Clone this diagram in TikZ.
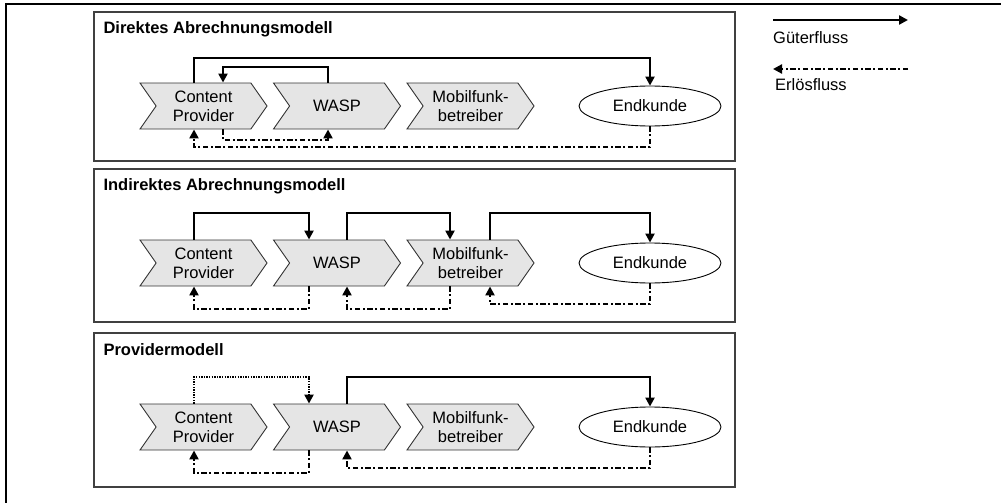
\documentclass[tikz,border=0pt]{standalone}
\usepackage{fontspec}
\setmainfont{Liberation Sans}
\usetikzlibrary{arrows.meta, shapes.geometric, shapes.symbols}

\begin{document}
\begin{tikzpicture}[
    x=1pt, y=-1pt,
    >={Triangle[length=9pt, width=9pt]},
    font=\fontsize{16.5}{19}\selectfont,
    chev/.style={draw=black!80, line width=0.9pt, fill=black!10, signal,
                 signal to=east, signal from=west, signal pointer angle=110,
                 minimum width=127pt, minimum height=46pt,
                 inner sep=0pt, align=center},
    kunde/.style={draw, line width=0.9pt, ellipse, fill=white,
                  minimum width=142pt, minimum height=40pt, inner sep=0pt},
    panel/.style={draw=black!75, line width=1.4pt},
    titel/.style={anchor=west, font=\fontsize{16.5}{19}\selectfont\bfseries},
    gut/.style={->, line width=2.8pt},
    gutpunkt/.style={->, line width=2.8pt, dash pattern=on 1.3pt off 1.3pt},
    erloes/.style={->, line width=2.3pt,
                   dash pattern=on 5.5pt off 2.5pt on 2pt off 2.5pt}
  ]
  \useasboundingbox (0,0) rectangle (1001,503);
  \draw[line width=1.2pt] (6,503) -- (6,4) -- (1001,4);

  % Direktes Abrechnungsmodell
  \draw[panel] (94,12) rectangle (735,161);
  \node[titel] (t1) at (100,29) {Direktes Abrechnungsmodell};
  \node[chev] (cp1) at (203.5,106) {Content\\Provider};
  \node[chev] (wasp1) at (337,106) {WASP};
  \node[chev] (mf1) at (470.5,106) {Mobilfunk-\\betreiber};
  \node[kunde] (end1) at (650,106) {Endkunde};

  \draw[gut] (194,0 |- cp1.north) |- (650,58) -- (end1.north);
  \draw[gut] (328,0 |- wasp1.north) |- (223,67) -- (223,0 |- cp1.north);
  \draw[erloes] (223,0 |- cp1.south) |- (328,140) -- (328,0 |- wasp1.south);
  \draw[erloes] (end1.south) |- (194,147) -- (194,0 |- cp1.south);

  % Indirektes Abrechnungsmodell
  \draw[panel] (94,169) rectangle (735,322);
  \node[titel] (t2) at (100,186) {Indirektes Abrechnungsmodell};
  \node[chev] (cp2) at (203.5,263) {Content\\Provider};
  \node[chev] (wasp2) at (337,263) {WASP};
  \node[chev] (mf2) at (470.5,263) {Mobilfunk-\\betreiber};
  \node[kunde] (end2) at (650,263) {Endkunde};

  \draw[gut] (194,0 |- cp2.north) |- (309,213) -- (309,0 |- wasp2.north);
  \draw[gut] (347,0 |- wasp2.north) |- (450,213) -- (450,0 |- mf2.north);
  \draw[gut] (490,0 |- mf2.north) |- (650,213) -- (end2.north);
  \draw[erloes] (309,0 |- wasp2.south) |- (194,309) -- (194,0 |- cp2.south);
  \draw[erloes] (450,0 |- mf2.south) |- (347,309) -- (347,0 |- wasp2.south);
  \draw[erloes] (end2.south) |- (490,304) -- (490,0 |- mf2.south);

  % Providermodell
  \draw[panel] (94,333) rectangle (735,487);
  \node[titel] (t3) at (100,350) {Providermodell};
  \node[chev] (cp3) at (203.5,427) {Content\\Provider};
  \node[chev] (wasp3) at (337,427) {WASP};
  \node[chev] (mf3) at (470.5,427) {Mobilfunk-\\betreiber};
  \node[kunde] (end3) at (650,427) {Endkunde};

  \draw[gutpunkt] (194,0 |- cp3.north) |- (309,377) -- (309,0 |- wasp3.north);
  \draw[gut] (347,0 |- wasp3.north) |- (650,377) -- (end3.north);
  \draw[erloes] (309,0 |- wasp3.south) |- (194,473) -- (194,0 |- cp3.south);
  \draw[erloes] (end3.south) |- (347,468) -- (347,0 |- wasp3.south);

  % Legende
  \coordinate (g1) at (773,20);
  \coordinate (g2) at (908,20);
  \draw[gut] (g1) -- (g2);
  \node[anchor=west, inner sep=0pt] (gl) at (773,38) {Güterfluss};
  \coordinate (e1) at (773,69);
  \coordinate (e2) at (908,69);
  \draw[erloes] (e2) -- (e1);
  \node[anchor=west, inner sep=0pt] (el) at (775,85) {Erlösfluss};
\end{tikzpicture}
\end{document}
